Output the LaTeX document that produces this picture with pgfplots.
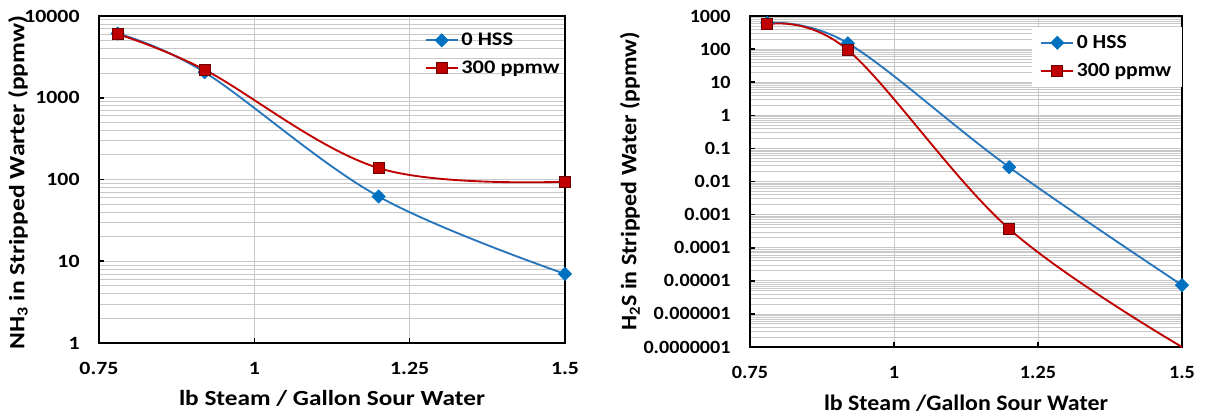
\documentclass[border=0pt]{standalone}
\usepackage{fontspec}
\setmainfont{Carlito}
\newfontfamily\lfont{Carlito}[FakeStretch=1.17]
\newfontfamily\rfont{Carlito}[FakeStretch=1.08]
\usepackage{pgfplots}
\pgfplotsset{compat=1.18}

\definecolor{hssblue}{RGB}{40,118,188}
\definecolor{hssmark}{RGB}{0,112,192}
\definecolor{ppmred}{RGB}{192,0,0}
\definecolor{ppmedge}{RGB}{110,0,0}
\definecolor{gridgray}{RGB}{200,200,200}

\pgfplotsset{
  steamaxis/.style={
    scale only axis,
    xmin=0.75, xmax=1.5,
    xtick={0.75,1,1.25,1.5},
    xticklabels={0.75,1,1.25,1.5},
    axis line style={line width=1.8pt},
    tick style={line width=1.2pt, black},
    major tick length=4pt,
    minor tick length=0pt,
    xtick pos=bottom, ytick pos=left,
    tick align=inside,
    xmajorgrids, ymajorgrids, yminorgrids,
    major grid style={gridgray, line width=0.6pt},
    minor grid style={gridgray, line width=0.6pt},
    /pgf/number format/assume math mode=true,
    yticklabel style={xshift=-11pt},
    xticklabel style={yshift=-11pt},
    legend cell align=left,
    legend style={draw=none, row sep=6pt, anchor=north west},
    legend image code/.code={
      \draw[mark repeat=2, mark phase=2, #1]
        plot coordinates {(0pt,0pt) (12pt,0pt) (24pt,0pt)};
    },
  },
  hss/.style={color=hssblue, line width=1.4pt, smooth, tension=0.6,
    mark=diamond*, mark size=5pt,
    mark options={xscale=1.333, fill=hssmark, draw=hssmark, line width=0.4pt}},
  ppm/.style={color=ppmred, line width=1.4pt, smooth, tension=0.6,
    mark=square*, mark size=4.1pt,
    mark options={fill=ppmred, draw=ppmedge, line width=0.6pt}},
}

\begin{document}
\begin{tikzpicture}
\useasboundingbox (0,0) rectangle (906.75pt,313.5pt);

% NH3
\begin{axis}[
    steamaxis,
    ymode=log,
    at={(74.25pt,56.25pt)}, anchor=south west,
    width=349.5pt, height=245.25pt,
    ymin=1, ymax=10000,
    ytick={1,10,100,1000,10000},
    yticklabels={1,10,100,1000,10000},
    tick label style={font=\lfont\fontsize{14}{16}\selectfont\bfseries},
    xlabel style={font=\lfont\fontsize{16.2}{19}\selectfont\bfseries},
    ylabel style={font=\lfont\fontsize{16.4}{19}\selectfont\bfseries},
    xlabel={lb Steam / Gallon Sour Water},
    ylabel={NH\textsubscript{3} in Stripped Warter (ppmw)},
    xlabel style={at={(axis description cs:0.5,-0.168)}, anchor=center},
    ylabel style={at={(axis description cs:-0.174,0.49)}, anchor=center},
    legend style={at={(axis description cs:0.69,0.965)}, fill=none,
                  font=\lfont\fontsize{14.4}{16}\selectfont\bfseries},
]
\addplot[hss] coordinates {(0.78,6100) (0.92,2050) (1.2,62) (1.5,7)};
\addplot[ppm] coordinates {(0.78,6000) (0.92,2200) (1.2,138) (1.5,94)};
\legend{0 HSS, 300 ppmw}
\end{axis}

% H2S
\begin{axis}[
    steamaxis,
    ymode=log,
    at={(562.5pt,53.25pt)}, anchor=south west,
    width=324pt, height=248.25pt,
    ymin=1e-7, ymax=1000,
    ytick={1e-7,1e-6,1e-5,1e-4,1e-3,1e-2,1e-1,1,10,100,1000},
    yticklabels={0.0000001,0.000001,0.00001,0.0001,0.001,0.01,0.1,1,10,100,1000},
    tick label style={font=\rfont\fontsize{14}{16}\selectfont\bfseries},
    xlabel style={font=\rfont\fontsize{16.6}{19}\selectfont\bfseries},
    ylabel style={font=\rfont\fontsize{16.6}{19}\selectfont\bfseries},
    xlabel={lb Steam /Gallon Sour Water},
    ylabel={H\textsubscript{2}S in Stripped Water (ppmw)},
    xlabel style={at={(axis description cs:0.5,-0.169)}, anchor=center},
    ylabel style={at={(axis description cs:-0.278,0.5)}, anchor=center},
    legend style={at={(axis description cs:0.653,0.967)}, fill=white,
                  inner xsep=6pt, inner ysep=4pt,
                  font=\rfont\fontsize{15}{17}\selectfont\bfseries},
]
\addplot[hss] coordinates {(0.78,620) (0.92,150) (1.2,0.027) (1.5,7.4e-6)};
\addplot[ppm, mark indices={1,2,3}, legend image post style={mark indices={2}}]
  coordinates {(0.78,560) (0.92,93) (1.2,3.7e-4) (1.5,1e-7)};
\legend{0 HSS, 300 ppmw}
\end{axis}
\end{tikzpicture}
\end{document}
